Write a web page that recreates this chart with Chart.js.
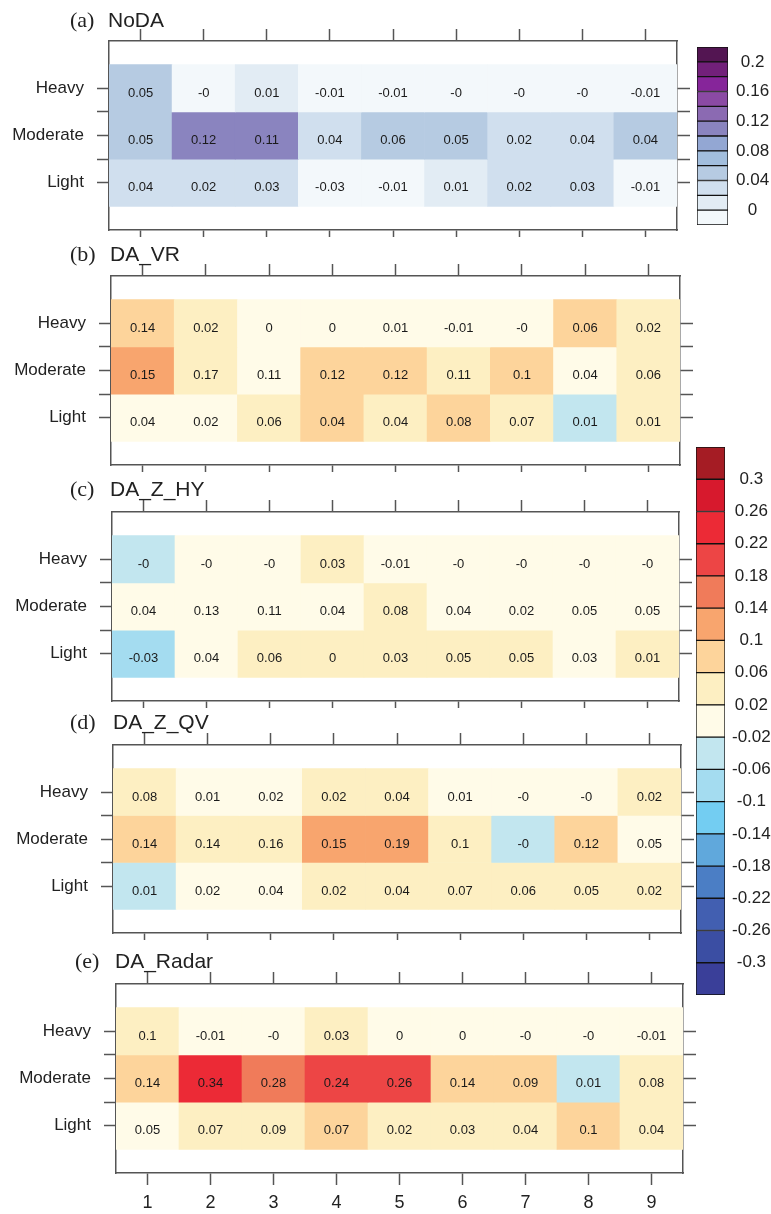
<!DOCTYPE html>
<html>
<head>
<meta charset="utf-8">
<script src="https://cdn.jsdelivr.net/npm/chart.js@4"></script>
<style>
  body { margin: 0; background: #fff; width: 771px; height: 1214px; position: relative; overflow: hidden; }
  canvas { position: absolute; }
  .tag, .name { position: absolute; line-height: 22px; color: #222; white-space: nowrap; }
  .tag { font-family: "Liberation Serif", serif; font-size: 22px; }
  .name { font-family: "Liberation Sans", Arial, sans-serif; font-size: 21px; }
</style>
</head>
<body>
<script>
const cols = ['1', '2', '3', '4', '5', '6', '7', '8', '9'];
const rows = ['Heavy', 'Moderate', 'Light'];

// numbers printed in the cells, rows Heavy / Moderate / Light
const nodaVals = [
  [0.05, -0, 0.01, -0.01, -0.01, -0, -0, -0, -0.01],
  [0.05, 0.12, 0.11, 0.04, 0.06, 0.05, 0.02, 0.04, 0.04],
  [0.04, 0.02, 0.03, -0.03, -0.01, 0.01, 0.02, 0.03, -0.01]
];
const vrVals = [
  [0.14, 0.02, 0, 0, 0.01, -0.01, -0, 0.06, 0.02],
  [0.15, 0.17, 0.11, 0.12, 0.12, 0.11, 0.1, 0.04, 0.06],
  [0.04, 0.02, 0.06, 0.04, 0.04, 0.08, 0.07, 0.01, 0.01]
];
const hyVals = [
  [-0, -0, -0, 0.03, -0.01, -0, -0, -0, -0],
  [0.04, 0.13, 0.11, 0.04, 0.08, 0.04, 0.02, 0.05, 0.05],
  [-0.03, 0.04, 0.06, 0, 0.03, 0.05, 0.05, 0.03, 0.01]
];
const qvVals = [
  [0.08, 0.01, 0.02, 0.02, 0.04, 0.01, -0, -0, 0.02],
  [0.14, 0.14, 0.16, 0.15, 0.19, 0.1, -0, 0.12, 0.05],
  [0.01, 0.02, 0.04, 0.02, 0.04, 0.07, 0.06, 0.05, 0.02]
];
const radarVals = [
  [0.1, -0.01, -0, 0.03, 0, 0, -0, -0, -0.01],
  [0.14, 0.34, 0.28, 0.24, 0.26, 0.14, 0.09, 0.01, 0.08],
  [0.05, 0.07, 0.09, 0.07, 0.02, 0.03, 0.04, 0.1, 0.04]
];

// shading value of each cell
const nodaShade = [
  [0.05, -0.01, 0.01, -0.01, -0.01, -0.01, -0.01, -0.01, -0.01],
  [0.05, 0.11, 0.11, 0.03, 0.05, 0.05, 0.03, 0.03, 0.05],
  [0.03, 0.03, 0.03, -0.01, -0.01, 0.01, 0.03, 0.03, -0.01]
];
const vrShade = [
  [0.09, 0.03, -0.01, 0.01, 0.01, -0.01, 0, 0.07, 0.03],
  [0.11, 0.05, 0, 0.08, 0.07, 0.05, 0.08, 0, 0.03],
  [0, 0, 0.03, 0.07, 0.05, 0.07, 0.05, -0.03, 0.03]
];
const hyShade = [
  [-0.04, 0, 0, 0.04, 0, 0, 0, 0, 0],
  [0, 0, 0, 0, 0.03, 0, 0, 0, 0],
  [-0.07, 0, 0.03, 0.03, 0.04, 0.04, 0.03, 0, 0.03]
];
const qvShade = [
  [0.03, 0.01, 0.01, 0.03, 0.05, 0.01, 0, 0, 0.03],
  [0.09, 0.03, 0.05, 0.11, 0.13, 0.05, -0.03, 0.08, 0.01],
  [-0.03, 0, 0.01, 0.05, 0.05, 0.05, 0.04, 0.03, 0.03]
];
const radarShade = [
  [0.05, 0, 0, 0.04, 0.01, 0, 0, 0, 0],
  [0.09, 0.23, 0.17, 0.2, 0.2, 0.09, 0.07, -0.03, 0.04],
  [0.01, 0.05, 0.05, 0.09, 0.03, 0.03, 0.03, 0.07, 0.05]
];

// colour bar levels (tick labels) and fills
const puLevels = [0, 0.02, 0.04, 0.06, 0.08, 0.1, 0.12, 0.14, 0.16, 0.18, 0.2];
const puColors = ['#f3f8fb', '#e2ecf4', '#d0dfee', '#b6cbe2', '#a2bedd', '#93a7d3',
                  '#8a84bf', '#8b6ab2', '#8b4aa4', '#86259a', '#72207a', '#531552'];
const rbLevels = [-0.3, -0.26, -0.22, -0.18, -0.14, -0.1, -0.06, -0.02,
                  0.02, 0.06, 0.1, 0.14, 0.18, 0.22, 0.26, 0.3];
const rbColors = ['#3a3f99', '#3b4ea3', '#425fb1', '#4b7ec5', '#60a8dc', '#73cdf2',
                  '#a4dcf0', '#c2e6ef', '#fffbe8', '#fdefc2', '#fdd49b', '#f8a56e',
                  '#f07b5a', '#ed4545', '#ec2a36', '#d7192d', '#a51c24'];

Chart.defaults.font.family = '"Liberation Sans", Arial, sans-serif';
Chart.defaults.color = '#222';
Chart.defaults.animation = false;

const EDGE = '#555';

function fmt(v) {
  return Object.is(v, -0) ? '-0' : String(v);
}

function pick(v, levels, colors) {
  let i = 0;
  while (i < levels.length && v >= levels[i]) i++;
  return colors[i];
}

function addCanvas(x, y, w, h) {
  const c = document.createElement('canvas');
  c.width = w;
  c.height = h;
  c.style.left = x + 'px';
  c.style.top = y + 'px';
  document.body.appendChild(c);
  return c;
}

function addText(cls, txt, x, y) {
  const d = document.createElement('div');
  d.className = cls;
  d.textContent = txt;
  d.style.left = x + 'px';
  d.style.top = y + 'px';
  document.body.appendChild(d);
}

function rowTicks(s) {
  s.ticks = [1, 1.5, 2, 2.5, 3].map(v => ({ value: v }));
}

const panels = [
  { tag: '(a)', name: 'NoDA', vals: nodaVals, shade: nodaShade, lv: puLevels, cl: puColors, box: [109, 41, 677, 230], tx: [70, 108], ty: 9 },
  { tag: '(b)', name: 'DA_VR', vals: vrVals, shade: vrShade, lv: rbLevels, cl: rbColors, box: [111, 276, 680, 465], tx: [70, 110], ty: 243 },
  { tag: '(c)', name: 'DA_Z_HY', vals: hyVals, shade: hyShade, lv: rbLevels, cl: rbColors, box: [112, 512, 679, 701], tx: [70, 110], ty: 478 },
  { tag: '(d)', name: 'DA_Z_QV', vals: qvVals, shade: qvShade, lv: rbLevels, cl: rbColors, box: [113, 745, 681, 933], tx: [70, 113], ty: 711 },
  { tag: '(e)', name: 'DA_Radar', vals: radarVals, shade: radarShade, lv: rbLevels, cl: rbColors, box: [116, 984, 683, 1173], tx: [75, 115], ty: 950 }
];

const W = 700;
const TOP = 14;

panels.forEach((p, k) => {
  const last = k === panels.length - 1;
  const [l, t, r, b] = p.box;
  const BOT = last ? 50 : 9;
  const cv = addCanvas(0, t - TOP, W, (b - t) + TOP + BOT);

  const cellText = {
    id: 'cellText' + k,
    afterDatasetsDraw(chart) {
      const ctx = chart.ctx;
      ctx.save();
      ctx.font = '13px "Liberation Sans", Arial, sans-serif';
      ctx.fillStyle = '#1a1a1a';
      ctx.textAlign = 'center';
      ctx.textBaseline = 'middle';
      chart.data.datasets.forEach((ds, i) => {
        chart.getDatasetMeta(i).data.forEach((el, j) => {
          ctx.fillText(fmt(p.vals[i][j]), el.x, (el.y + el.base) / 2 + 5);
        });
      });
      ctx.restore();
    }
  };

  new Chart(cv, {
    type: 'bar',
    data: {
      labels: cols,
      datasets: rows.map((name, i) => ({
        label: name,
        data: p.vals[i].map(() => [2.5 - i, 3.5 - i]),
        backgroundColor: p.shade[i].map(v => pick(v, p.lv, p.cl)),
        borderWidth: 0,
        grouped: false,
        barPercentage: 1,
        categoryPercentage: 1
      }))
    },
    options: {
      responsive: false,
      events: [],
      plugins: { legend: { display: false }, tooltip: { enabled: false } },
      scales: {
        x: {
          type: 'category', position: 'top', offset: true,
          grid: { offset: false, drawOnChartArea: false, tickLength: 12, tickColor: EDGE, tickWidth: 1.5 },
          border: { display: true, color: EDGE, width: 1.5 },
          ticks: { display: false },
          afterFit: s => { s.height = TOP; s.paddingLeft = 0; s.paddingRight = 0; }
        },
        x2: {
          type: 'category', position: 'bottom', offset: true, display: true,
          grid: { offset: false, drawOnChartArea: false, tickLength: last ? 12 : 7, tickColor: EDGE, tickWidth: 1.5 },
          border: { display: true, color: EDGE, width: 1.5 },
          ticks: { display: last, font: { size: 18 }, color: '#222', padding: 7, maxRotation: 0 },
          afterFit: s => { s.height = BOT; s.paddingLeft = 0; s.paddingRight = 0; }
        },
        y: {
          type: 'linear', position: 'left', min: 0, max: 4,
          afterBuildTicks: rowTicks,
          ticks: {
            font: { size: 17 }, color: '#222', padding: 13,
            callback: v => Number.isInteger(v) ? rows[3 - v] : ''
          },
          grid: { drawOnChartArea: false, tickLength: 12, tickColor: EDGE, tickWidth: 1.5 },
          border: { display: true, color: EDGE, width: 1.5 },
          afterFit: s => { s.width = l; s.paddingTop = 0; s.paddingBottom = 0; }
        },
        y2: {
          type: 'linear', position: 'right', min: 0, max: 4, display: true,
          afterBuildTicks: rowTicks,
          ticks: { display: false },
          grid: { drawOnChartArea: false, tickLength: 13, tickColor: EDGE, tickWidth: 1.5 },
          border: { display: true, color: EDGE, width: 1.5 },
          afterFit: s => { s.width = W - r; s.paddingTop = 0; s.paddingBottom = 0; }
        }
      }
    },
    plugins: [cellText]
  });

  addText('tag', p.tag, p.tx[0], p.ty);
  addText('name', p.name, p.tx[1], p.ty);
});

function colorbar(levels, colors, box, every, pad) {
  const [l, t, r, b] = box;
  const AX = 60;
  const cv = addCanvas(l, t, (r - l) + AX, b - t);
  new Chart(cv, {
    type: 'bar',
    data: {
      labels: [''],
      datasets: colors.map((c, i) => ({
        data: [[i, i + 1]],
        backgroundColor: c,
        borderColor: '#111',
        borderWidth: 1,
        borderSkipped: false,
        grouped: false,
        barPercentage: 1,
        categoryPercentage: 1
      }))
    },
    options: {
      responsive: false,
      events: [],
      plugins: { legend: { display: false }, tooltip: { enabled: false } },
      scales: {
        x: { display: false },
        y: {
          position: 'right', min: 0, max: colors.length,
          afterBuildTicks: s => { s.ticks = levels.map((_, i) => ({ value: i + 1 })); },
          ticks: {
            font: { size: 17 }, color: '#222', padding: pad, crossAlign: 'center',
            callback: v => ((v - 1) % every === 0 ? String(levels[v - 1]) : '')
          },
          grid: { display: false, drawTicks: false },
          border: { display: false },
          afterFit: s => { s.width = AX; s.paddingTop = 0; s.paddingBottom = 0; }
        }
      }
    }
  });
}

colorbar(puLevels, puColors, [697, 47, 728, 225], 2, 8);
colorbar(rbLevels, rbColors, [696, 447, 725, 995], 1, 7);
</script>
</body>
</html>
